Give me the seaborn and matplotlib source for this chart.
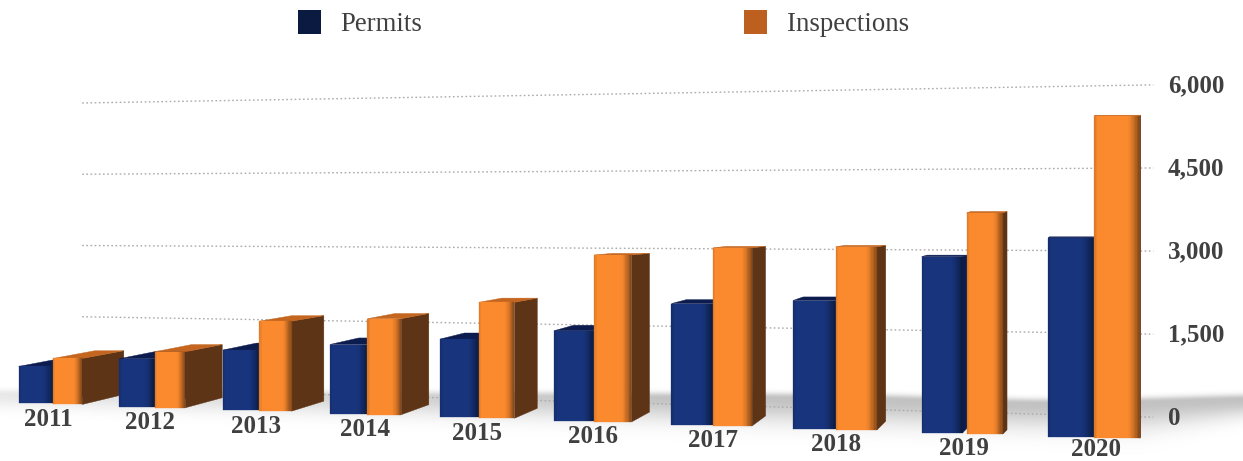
import numpy as np
import pandas as pd
import matplotlib
matplotlib.use("Agg")
import matplotlib.pyplot as plt
import matplotlib.transforms as mtransforms
from matplotlib.colors import to_rgb
from matplotlib.patches import Polygon, Rectangle
import seaborn as sns

# === DATA ===
YEARS = ["2011", "2012", "2013", "2014", "2015", "2016", "2017", "2018", "2019", "2020"]
PERMITS = [724, 925, 1139, 1290, 1435, 1630, 2156, 2243, 3033, 3371]
INSPECTIONS = [896, 1074, 1700, 1785, 2123, 3008, 3155, 3190, 3788, 5425]
SERIES = ["Permits", "Inspections"]
Y_TICKS = [0, 1500, 3000, 4500, 6000]

# === STYLE ===
W, H = 1243, 461
BLUE, ORANGE = "#17347c", "#fb8a2e"
TOP_COLORS = {"Permits": "#0c1c4e", "Inspections": "#c4661f"}
SIDE_COLORS = {"Permits": "#0c1c4e", "Inspections": "#5e3417"}
TEXT = "#404040"
SERIF = "Liberation Serif"


class Projection(mtransforms.Transform):
    """Perspective of the fake 3D chart: (category, value) -> image pixels.
    With anchor set, y is taken at one category so the bar edges stay flat."""
    input_dims = 2
    output_dims = 2

    def __init__(self, wall=False, anchor=None):
        super().__init__()
        self.wall = wall
        self.anchor = anchor

    def transform_non_affine(self, values):
        u, v = np.asarray(values, dtype=float).T
        x = (99.33 * u + 53) / (1 - 0.01494 * u)
        if self.wall:
            y = 388 + 0.02728 * (x - 82) - v * (285 + 0.04421 * (x - 82)) / 6000
        else:
            a = u if self.anchor is None else np.full_like(u, self.anchor)
            y = (404 - 2.81 * a - 0.05124 * v) / (1 - 0.01494 * a)
        return np.column_stack([x, y])


def side_depth(u):
    return max(43 * (1 - u / 9.2), 1.0)


def rise(h, dx):
    return min(max(10 - 0.05 * h, 1.5), dx)


def shade(color, t):
    # round-bar look: slightly dark left edge, smooth falloff on the right
    f = 1.0
    if t < 0.08:
        f = 0.85 + 0.15 * t / 0.08
    if t > 0.72:
        f = 1 - 0.5 * ((t - 0.72) / 0.28) ** 1.5
    return tuple(np.array(to_rgb(color)) * f)


def draw_shadow(ax, pixels):
    xx, yy = np.meshgrid(np.arange(W), np.arange(H), sparse=False)
    xx = xx.astype(float)
    yy = yy.astype(float)
    bottom = np.where(xx < 1140, 412 + 0.023 * xx, 438 - 0.16 * (xx - 1140))
    centre = 397 + 6 * np.exp(-((xx - 1060) / 160) ** 2) - 3 * np.clip((700 - xx) / 700, 0, 1)
    sigma = np.where(yy < centre, 5.0, (bottom - centre) / 1.4)
    amp = np.clip(0.09 + 0.13 * xx / 600, 0, 0.24)
    img = 1 - amp * np.exp(-((yy - centre) / sigma) ** 2)
    ax.imshow(img, cmap="gray", vmin=0, vmax=1, extent=(0, W, H, 0), aspect="auto",
              transform=pixels, zorder=0, interpolation="bilinear")


def draw_bar(ax, patch, series, color, pixels, z):
    x0, w, height = patch.get_x(), patch.get_width(), patch.get_height()
    flat = Projection(anchor=x0 + w / 2)
    proj = flat + pixels
    patch.set_transform(proj)
    patch.set_zorder(z)
    patch.set_linewidth(0)

    (xl, yb), (xr, yt) = flat.transform_non_affine(np.array([[x0, 0], [x0 + w, height]], dtype=float))
    dx = side_depth(x0 + w)
    up_top = rise(yb - yt, dx)
    up_bottom = rise(0, dx)

    side = [(xr, yb), (xr, yt), (xr + dx, yt - up_top), (xr + dx, yb - up_bottom)]
    top = [(xl, yt), (xr, yt), (xr + dx, yt - up_top), (xl + dx, yt - up_top)]
    for pts, c in ((side, SIDE_COLORS[series]), (top, TOP_COLORS[series])):
        ax.add_patch(Polygon(pts, closed=True, facecolor=c, edgecolor=c, lw=0.3,
                             transform=pixels, zorder=z - 0.5))

    # front face gradient as thin strips over the seaborn bar
    n = 30
    for k in range(n):
        c = shade(color, (k + 0.5) / n)
        ax.add_patch(Rectangle((x0 + k * w / n, 0), w / n, height, facecolor=c, edgecolor=c,
                               lw=0.2, transform=proj, zorder=z + 0.1))


def main():
    df = pd.DataFrame({
        "year": YEARS * 2,
        "count": PERMITS + INSPECTIONS,
        "series": [SERIES[0]] * len(YEARS) + [SERIES[1]] * len(YEARS),
    })

    sns.set_theme(style="white")
    plt.rcParams["font.family"] = [SERIF, "DejaVu Serif"]
    fig = plt.figure(figsize=(W / 100, H / 100), dpi=100)
    ax = fig.add_axes([0, 0, 1, 1])

    sns.barplot(data=df, x="year", y="count", hue="series", order=YEARS, hue_order=SERIES,
                palette=[BLUE, ORANGE], width=0.69, gap=0, legend=False, ax=ax)
    ax.set_axis_off()

    pixels = mtransforms.Affine2D().scale(1, -1).translate(0, H)
    wall = Projection(wall=True) + pixels

    draw_shadow(ax, pixels)

    # back wall gridlines
    u_start, u_end = 0.29, 9.44
    for tick in Y_TICKS:
        ax.plot([u_start, u_end], [tick, tick], transform=wall, color="#ababab", lw=1.0,
                ls=(0, (1.2, 1.8)), zorder=1, clip_on=False)
        _, y = Projection(wall=True).transform_non_affine(np.array([[u_end, tick]], dtype=float))[0]
        ax.text(1168, y + 1, f"{tick:,}", transform=pixels, ha="left", va="center",
                fontsize=18, fontweight="bold", color=TEXT)

    # seaborn draws all of one hue first, so paint left to right with zorder
    n_years = len(YEARS)
    bars = list(ax.patches)[:2 * n_years]
    for h_idx, series in enumerate(SERIES):
        color = [BLUE, ORANGE][h_idx]
        for i in range(n_years):
            patch = bars[h_idx * n_years + i]
            if series == "Inspections":
                # front face looks narrower on the left, camera sits to the right
                patch.set_width(0.29 + 0.05 * i / 9)
            if YEARS[i] == "2019":
                # this pair sits a bit tighter and has a small gap in the picture
                if series == "Permits":
                    patch.set_x(patch.get_x() + 0.025)
                    patch.set_width(patch.get_width() - 0.025)
                else:
                    patch.set_x(patch.get_x() + 0.03)
                    patch.set_width(patch.get_width() - 0.055)
            draw_bar(ax, patch, series, color, pixels, 3 + 2 * i + h_idx)

    for i, year in enumerate(YEARS):
        x, y = Projection().transform_non_affine(np.array([[i, 0]], dtype=float))[0]
        # keep the last label inside the image
        ax.text(x - 5 + 7 * i / 9, min(y + 22, 455.5), year, transform=pixels, ha="center",
                va="baseline", fontsize=18, fontweight="bold", color=TEXT, zorder=40)

    # legend
    for name, x_box, x_txt, c in ((SERIES[0], 298, 340, "#0a1a40"), (SERIES[1], 744, 787, "#bd5f1e")):
        ax.add_patch(Rectangle((x_box, 10), 23, 24, facecolor=c, edgecolor="none",
                               transform=pixels, zorder=40))
        ax.text(x_txt, 24, name, transform=pixels, ha="left", va="center",
                fontsize=19.3, color=TEXT, zorder=40)

    fig.savefig("out.png", dpi=100, facecolor="white")


if __name__ == "__main__":
    main()
